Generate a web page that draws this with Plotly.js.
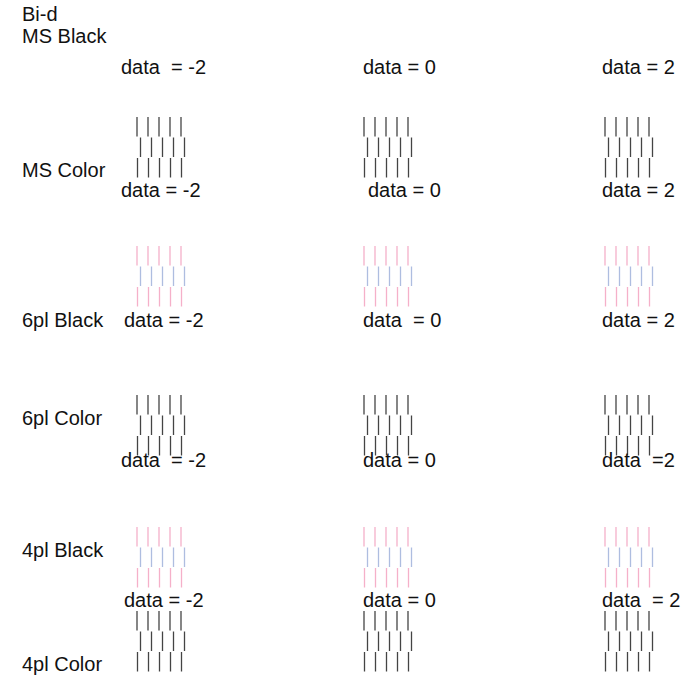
<!DOCTYPE html>
<html>
<head>
<meta charset="utf-8">
<script src="https://cdn.plot.ly/plotly-3.0.1.min.js"></script>
<style>html,body{margin:0;padding:0;background:#fff;}#chart{width:691px;height:686px;}</style>
</head>
<body>
<div id="chart"></div>
<script>
// ---- data ----
const title = "Bi-d";
const rowNames = ["MS Black", "MS Color", "6pl Black", "6pl Color", "4pl Black", "4pl Color"];
const dataValues = [-2, 0, 2];
// text of the "data = X" captions per row (spacing as in the original)
const captionRows = [
  ["data  = -2", "data = 0", "data = 2"],
  ["data = -2", "data = 0", "data = 2"],
  ["data = -2", "data  = 0", "data = 2"],
  ["data  = -2", "data = 0", "data  =2"],
  ["data = -2", "data = 0", "data  = 2"]
];
// pattern type of each row: null = none, "mono" = black lines, "color" = pink/blue/pink
const patternKinds = [null, "mono", "color", "mono", "color", "mono"];
const linesPerRow = [5, 5, 5];          // lines in top / middle / bottom strip
const stripShift = [0, 3.5, 0.5];        // horizontal shift of each strip (px)

// ---- layout geometry (pixels) ----
const W = 691, H = 686;
const rowLabelY = [36, 170, 320, 418, 550, 664];
const captionY = [67, 190, 320, 460, 600];
const captionX = [[119, 361, 600], [119, 366, 600], [122, 361, 600], [119, 361, 600], [122, 361, 600]];
const patternTop = [null, 117, 246, 395, 527, 611];
const colLeft = [137, 364, 605];
const lineGap = 11, stripH = 19.5, stripStep = 20.5;

const monoColors = ["#444444", "#444444", "#444444"];
const colorColors = ["#f5b0c9", "#aebde0", "#f5b0c9"];

const traces = [];
patternKinds.forEach((kind, r) => {
  if (!kind) return;
  const cols = kind === "mono" ? monoColors : colorColors;
  for (let s = 0; s < 3; s++) {
    const xs = [], ys = [];
    dataValues.forEach((v, c) => {
      for (let i = 0; i < linesPerRow[s]; i++) {
        const x = colLeft[c] + stripShift[s] + i * lineGap;
        const y0 = patternTop[r] + s * stripStep;
        xs.push(x, x, null);
        ys.push(y0, y0 + stripH, null);
      }
    });
    traces.push({
      x: xs, y: ys, type: "scatter", mode: "lines",
      line: {color: cols[s], width: 1.3},
      hoverinfo: "skip", showlegend: false
    });
  }
});

const fontFam = "Liberation Sans, Arial, sans-serif";
const annotations = [];
const addText = (txt, x, y) => annotations.push({
  text: txt.replace(/ /g, "\u00a0"), x: x, y: y, xref: "x", yref: "y",
  xanchor: "left", yanchor: "middle", showarrow: false,
  font: {family: fontFam, size: 20, color: "#111"}
});
addText(title, 20, 14);
rowNames.forEach((n, r) => addText(n, 20, rowLabelY[r]));
captionRows.forEach((row, r) => row.forEach((t, c) => addText(t, captionX[r][c], captionY[r])));

const layout = {
  width: W, height: H,
  margin: {l: 0, r: 0, t: 0, b: 0},
  paper_bgcolor: "#fff", plot_bgcolor: "#fff",
  xaxis: {range: [0, W], visible: false, fixedrange: true},
  yaxis: {range: [H, 0], visible: false, fixedrange: true},
  annotations: annotations,
  showlegend: false
};
Plotly.newPlot("chart", traces, layout, {displayModeBar: false, staticPlot: true});
</script>
</body>
</html>
